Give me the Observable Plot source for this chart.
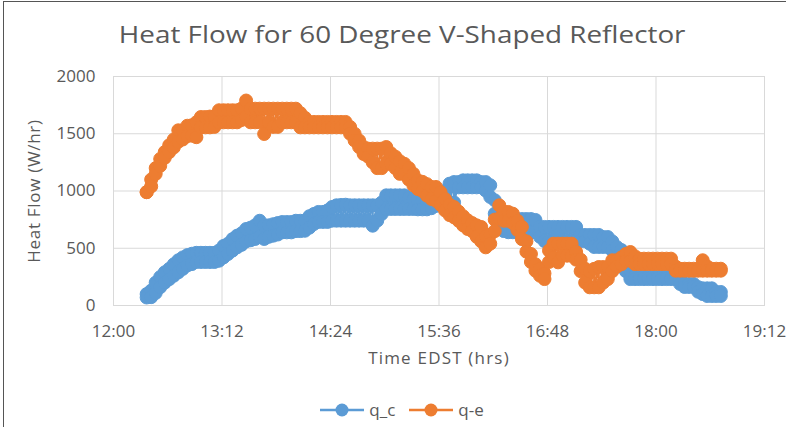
<!DOCTYPE html>
<html><head><meta charset="utf-8">
<script src="https://cdn.jsdelivr.net/npm/d3@7"></script>
<script src="https://cdn.jsdelivr.net/npm/@observablehq/plot@0.6"></script>
<style>
body{margin:0;background:#fff;}
#chart{position:relative;width:786px;height:427px;overflow:hidden;font-family:"Open Sans",Lato,sans-serif;color:#595959;}
#frameline{position:absolute;left:3px;top:1px;right:0;bottom:0;border-left:1px solid #555;border-top:1px solid #555;pointer-events:none;}
#title{position:absolute;left:0;top:18px;width:786px;text-align:center;font-size:23px;line-height:32px;box-sizing:border-box;}
#title span{display:inline-block;transform:translateX(9px) scaleX(1.21);transform-origin:center;}
#plot{position:absolute;left:0;top:60px;}
#plot g[aria-label="x-axis label"] text{letter-spacing:1.2px;}
#plot g[aria-label="y-axis label"] text{letter-spacing:0.7px;}
#legend{position:absolute;left:0;top:398px;width:786px;display:flex;justify-content:center;gap:14px;font-size:17px;line-height:24px;padding-left:18px;box-sizing:border-box;}
#legend span{display:flex;align-items:center;gap:5px;}
</style></head>
<body>
<div id="chart">
<div id="title"><span>Heat Flow for 60 Degree V-Shaped Reflector</span></div>
<div id="plot"></div>
<div id="legend"></div>
<div id="frameline"></div>
</div>
<script>
const times = ["12:22","12:25","12:28","12:31","12:34","12:37","12:40","12:43","12:46","12:49",
"12:52","12:55","12:58","13:01","13:04","13:07","13:10","13:13","13:16","13:19",
"13:22","13:25","13:28","13:31","13:34","13:37","13:40","13:43","13:46","13:49",
"13:52","13:55","13:58","14:01","14:04","14:07","14:10","14:13","14:16","14:19",
"14:22","14:25","14:28","14:31","14:34","14:37","14:40","14:43","14:46","14:49",
"14:52","14:55","14:58","15:01","15:04","15:07","15:10","15:13","15:16","15:19",
"15:22","15:25","15:28","15:31","15:34","15:37","15:40","15:43","15:46","15:49",
"15:52","15:55","15:58","16:01","16:04","16:07","16:10","16:13","16:16","16:19",
"16:22","16:25","16:28","16:31","16:34","16:37","16:40","16:43","16:46","16:49",
"16:52","16:55","16:58","17:01","17:04","17:07","17:10","17:13","17:16","17:19",
"17:22","17:25","17:28","17:31","17:34","17:37","17:40","17:43","17:46","17:49",
"17:52","17:55","17:58","18:01","18:04","18:07","18:10","18:13","18:16","18:19",
"18:22","18:25","18:28","18:31","18:34","18:37","18:40","18:43"];

// q_c: upper and lower readings of the scatter band at each time
const q_c_high = [100,130,200,249,290,320,360,395,420,440,
452,460,460,460,460,460,480,520,540,580,
610,630,668,680,700,740,700,700,710,720,
729,729,729,740,740,740,780,800,817,817,
830,860,875,878,880,875,875,875,875,875,
875,875,900,962,962,962,962,962,940,930,
920,920,920,930,950,960,1000,1064,1078,1078,
1093,1093,1093,1093,1078,1078,1050,919,802,755,
755,755,755,755,755,755,747,686,686,686,
686,686,686,686,686,686,616,616,616,616,
616,598,598,560,511,485,424,300,260,250,
250,250,250,250,250,250,250,250,231,188,
188,188,160,150,150,150,118,118];
const q_c_low = [70,73,110,160,200,230,260,290,320,350,
362,380,380,380,380,380,391,420,450,480,
508,530,560,570,581,600,581,600,610,620,
639,639,639,650,650,653,680,712,730,730,
730,741,741,741,741,741,741,741,741,741,
697,741,800,843,843,843,843,843,843,843,
840,840,840,850,870,880,900,900,900,1032,
1032,1032,1032,1032,1032,1004,948,802,700,650,
640,640,640,640,640,640,640,600,563,563,
563,616,563,563,563,563,563,563,540,511,
511,511,511,480,424,400,300,231,231,231,
231,231,231,231,231,231,231,231,188,162,
162,162,120,100,83,83,83,83];

// q-e: upper and lower readings of the scatter band at each time
const q_e_high = [990,1100,1200,1280,1340,1400,1450,1530,1530,1570,
1574,1600,1646,1646,1650,1650,1705,1705,1705,1705,
1705,1720,1790,1719,1719,1719,1719,1719,1719,1719,
1719,1719,1719,1719,1680,1640,1603,1603,1603,1603,
1603,1603,1603,1603,1603,1559,1500,1441,1384,1370,
1370,1370,1370,1384,1330,1300,1260,1238,1200,1150,
1093,1080,1060,1035,1035,990,930,880,860,820,
780,744,720,700,686,600,620,750,875,820,
817,802,740,686,560,450,360,320,280,480,
540,540,540,540,540,467,400,321,300,320,
336,336,336,395,395,420,450,467,430,409,
409,409,409,409,409,409,409,340,321,321,
321,321,321,395,340,321,321,321];
const q_e_low = [990,1040,1150,1220,1290,1340,1380,1430,1450,1480,
1483,1470,1556,1556,1556,1560,1600,1600,1600,1600,
1600,1620,1650,1600,1600,1600,1498,1600,1560,1560,
1600,1600,1600,1600,1556,1556,1556,1556,1556,1556,
1556,1556,1556,1556,1556,1500,1441,1384,1323,1300,
1250,1200,1200,1236,1236,1200,1150,1148,1100,1050,
1017,1000,960,930,915,880,830,790,770,740,
700,668,650,600,560,508,540,650,760,740,
740,720,660,580,470,380,304,260,231,380,
420,377,435,435,435,400,300,200,159,159,
159,200,231,300,340,360,391,391,362,362,
362,362,362,362,362,362,362,304,304,304,
304,304,304,304,304,304,304,304];

const seriesNames = ["q_c","q-e"];
const seriesColors = ["#5B9BD5","#ED7D31"];
const xTicks = ["12:00","13:12","14:24","15:36","16:48","18:00","19:12"];
const yTicks = [0,500,1000,1500,2000];

const toDate = s => { const [h,m] = s.split(":").map(Number); return new Date(Date.UTC(2000,0,1,h,m)); };
const seriesHigh = [q_c_high, q_e_high];
const seriesLow = [q_c_low, q_e_low];
const tables = seriesNames.map((name,k) => {
  const rows = [];
  times.forEach((t,i) => {
    rows.push({series:name, t:toDate(t), v:seriesHigh[k][i]});
    rows.push({series:name, t:toDate(t), v:seriesLow[k][i]});
  });
  return rows;
});
const xTickDates = xTicks.map(toDate);
const fmt = d3.utcFormat("%H:%M");

const marks = [
  Plot.gridX(xTickDates, {stroke:"#d9d9d9", strokeOpacity:1, strokeWidth:1}),
  Plot.gridY(yTicks, {stroke:"#d9d9d9", strokeOpacity:1, strokeWidth:1}),
  Plot.frame({stroke:"#d9d9d9", strokeWidth:1}),
  Plot.axisX(xTickDates, {tickSize:0, tickPadding:19, tickFormat:fmt, fontSize:17, label:"Time EDST (hrs)", labelAnchor:"center", labelArrow:"none", labelOffset:58}),
  Plot.axisY(yTicks, {tickSize:0, tickPadding:18, tickFormat:d => String(d), fontSize:17, label:"Heat Flow (W/hr)", labelAnchor:"center", labelArrow:"none", labelOffset:86})
];
tables.forEach((tbl,k) => {
  marks.push(Plot.line(tbl, {x:"t", y:"v", stroke:seriesColors[k], strokeWidth:2.25}));
  marks.push(Plot.dot(tbl, {x:"t", y:"v", fill:seriesColors[k], stroke:seriesColors[k], strokeWidth:1, r:6.5}));
});

const plot = Plot.plot({
  width:786, height:320, marginLeft:113, marginRight:22, marginTop:16, marginBottom:75,
  style:{fontFamily:"'Open Sans', Lato, sans-serif", fontSize:"17px", color:"#595959", background:"transparent"},
  x:{type:"utc", domain:[xTickDates[0], xTickDates[xTickDates.length-1]]},
  y:{domain:[0,2000]},
  marks
});
document.getElementById("plot").appendChild(plot);

const legend = document.getElementById("legend");
seriesNames.forEach((name,k) => {
  const s = document.createElement("span");
  s.innerHTML = `<svg width="44" height="14"><line x1="0" x2="44" y1="7" y2="7" stroke="${seriesColors[k]}" stroke-width="2.5"/><circle cx="22" cy="7" r="6.5" fill="${seriesColors[k]}"/></svg>`;
  const tx = document.createElement("span");
  tx.textContent = name;
  s.appendChild(tx);
  legend.appendChild(s);
});
</script>
</body></html>
